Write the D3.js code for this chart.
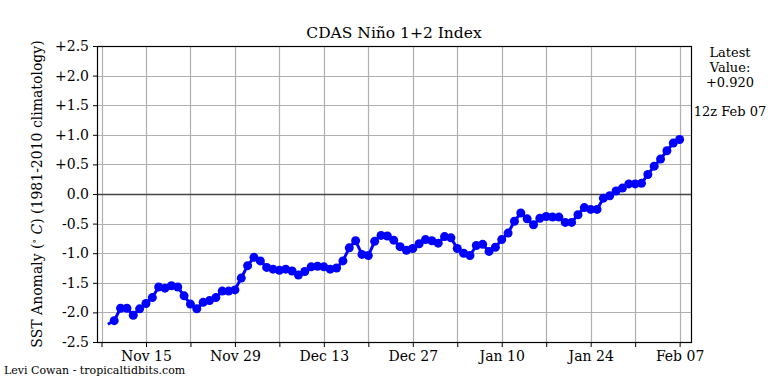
<!DOCTYPE html>
<html>
<head>
<meta charset="utf-8">
<script src="https://cdn.jsdelivr.net/npm/d3@7"></script>
<style>
  body { margin: 0; background: #fff; }
  svg { display: block; }
  text { font-family: "DejaVu Serif", serif; fill: #000; }
</style>
</head>
<body>
<div id="vis"></div>
<script>
// daily anomalies, Nov 09 -> Feb 07
var firstDay = "2021-11-09",
    lastDay = "2022-02-07";

var anomaly = [
  -2.20, -2.14, -1.93, -1.93, -2.05, -1.94, -1.85, -1.75, -1.57, -1.59,
  -1.55, -1.57, -1.72, -1.86, -1.94, -1.83, -1.80, -1.75, -1.64, -1.64,
  -1.62, -1.42, -1.21, -1.07, -1.13, -1.24, -1.27, -1.29, -1.27, -1.30,
  -1.37, -1.31, -1.23, -1.22, -1.23, -1.27, -1.25, -1.13, -0.91, -0.79,
  -1.02, -1.04, -0.80, -0.70, -0.71, -0.78, -0.89, -0.95, -0.92, -0.84,
  -0.77, -0.79, -0.83, -0.72, -0.74, -0.92, -1.00, -1.04, -0.87, -0.85,
  -0.97, -0.90, -0.77, -0.66, -0.46, -0.32, -0.42, -0.52, -0.41, -0.38,
  -0.39, -0.39, -0.48, -0.48, -0.35, -0.23, -0.26, -0.26, -0.07, -0.03,
   0.05,  0.10,  0.17,  0.17,  0.18,  0.33,  0.47,  0.59,  0.73,  0.86,
   0.92
];

var yTicks = [-2.5, -2.0, -1.5, -1.0, -0.5, 0.0, 0.5, 1.0, 1.5, 2.0, 2.5];
var xTickDays = ["2021-11-08", "2021-11-15", "2021-11-22", "2021-11-29", "2021-12-06",
                 "2021-12-13", "2021-12-20", "2021-12-27", "2022-01-03", "2022-01-10",
                 "2022-01-17", "2022-01-24", "2022-01-31", "2022-02-07"];
var xLabels = ["Nov 15", "Nov 29", "Dec 13", "Dec 27", "Jan 10", "Jan 24", "Feb 07"];

var title = "CDAS Niño 1+2 Index";
var latest = ["Latest", "Value:", "+0.920"];
var latestTime = "12z Feb 07";
var credit = "Levi Cowan - tropicaltidbits.com";

var parse = d3.utcParse("%Y-%m-%d");
var W = 768, H = 384;
var plotL = 97, plotR = 691, plotT = 46, plotB = 342;

var days = d3.utcDay.range(parse(firstDay), d3.utcDay.offset(parse(lastDay), 1));
var data = days.map(function(d, i) { return {date: d, v: anomaly[i]}; });
var tickDates = xTickDays.map(parse);

var svg = d3.select("#vis").append("svg")
    .attr("width", W)
    .attr("height", H);

var x = d3.scaleUtc()
    .domain([d3.utcHour.offset(tickDates[0], -17), d3.utcHour.offset(tickDates[tickDates.length - 1], 43)])
    .range([plotL, plotR]);

var y = d3.scaleLinear()
    .domain([-2.5, 2.5])
    .range([plotB, plotT]);

////////// grid //////////
var grid = svg.append("g").attr("class", "grid");

grid.selectAll(".vgrid")
    .data(tickDates)
    .enter().append("line")
    .attr("x1", function(d) { return Math.round(x(d)) + 0.5; })
    .attr("x2", function(d) { return Math.round(x(d)) + 0.5; })
    .attr("y1", plotT)
    .attr("y2", plotB)
    .attr("stroke", "#b0b0b0")
    .attr("stroke-width", 1.2);

grid.selectAll(".hgrid")
    .data(yTicks)
    .enter().append("line")
    .attr("x1", plotL)
    .attr("x2", plotR)
    .attr("y1", function(d) { return Math.round(y(d)) + 0.5; })
    .attr("y2", function(d) { return Math.round(y(d)) + 0.5; })
    .attr("stroke", "#b0b0b0")
    .attr("stroke-width", 1.2);

// zero line
svg.append("line")
    .attr("x1", plotL).attr("x2", plotR)
    .attr("y1", Math.round(y(0)) + 0.5).attr("y2", Math.round(y(0)) + 0.5)
    .attr("stroke", "#444")
    .attr("stroke-width", 1.5);

////////// series //////////
var line = d3.line()
    .x(function(d) { return x(d.date); })
    .y(function(d) { return y(d.v); });

svg.append("path")
    .datum(data)
    .attr("fill", "none")
    .attr("stroke", "#0000ff")
    .attr("stroke-width", 3)
    .attr("stroke-linejoin", "round")
    .attr("d", line);

svg.selectAll(".dot")
    .data(data.slice(1))
    .enter().append("circle")
    .attr("class", "dot")
    .attr("cx", function(d) { return x(d.date); })
    .attr("cy", function(d) { return y(d.v); })
    .attr("r", 4.5)
    .attr("fill", "#0000ff");

////////// axes //////////
var yAxis = d3.axisLeft(y)
    .tickValues(yTicks)
    .tickSize(4)
    .tickPadding(4)
    .tickFormat(function(d) { return d > 0 ? "+" + d.toFixed(1) : d.toFixed(1); });

var gy = svg.append("g")
    .attr("transform", "translate(" + plotL + ",0)")
    .call(yAxis);
gy.select(".domain").remove();
gy.selectAll("text").attr("font-size", 14).attr("font-family", "DejaVu Serif");

var labelled = {};
xLabels.forEach(function(l, i) { labelled[xTickDays[1 + 2 * i]] = l; });

var xAxis = d3.axisBottom(x)
    .tickValues(tickDates)
    .tickSize(5)
    .tickPadding(4)
    .tickFormat(function(d) { return labelled[d3.utcFormat("%Y-%m-%d")(d)] || ""; });

var gx = svg.append("g")
    .attr("transform", "translate(0," + plotB + ")")
    .call(xAxis);
gx.select(".domain").remove();
gx.selectAll("text").attr("font-size", 14).attr("font-family", "DejaVu Serif");

// frame
svg.append("rect")
    .attr("x", plotL + 0.5)
    .attr("y", plotT + 0.5)
    .attr("width", plotR - plotL)
    .attr("height", plotB - plotT)
    .attr("fill", "none")
    .attr("stroke", "#000")
    .attr("stroke-width", 1.2);

////////// text //////////
svg.append("text")
    .attr("x", (plotL + plotR) / 2)
    .attr("y", 38)
    .attr("text-anchor", "middle")
    .attr("font-size", 15.5)
    .text(title);

svg.append("text")
    .attr("transform", "translate(42," + ((plotT + plotB) / 2) + ") rotate(-90)")
    .attr("text-anchor", "middle")
    .attr("font-size", 14)
    .text("SST Anomaly (")
  .append("tspan").attr("font-size", 9).attr("dy", -5).text("∘")
  .select(function() { return this.parentNode; })
  .append("tspan").attr("dy", 5).attr("font-style", "italic").text(" C")
  .select(function() { return this.parentNode; })
  .append("tspan").text(") (1981-2010 climatology)");

svg.selectAll(".latest")
    .data(latest)
    .enter().append("text")
    .attr("x", 730)
    .attr("y", function(d, i) { return 57 + i * 15; })
    .attr("text-anchor", "middle")
    .attr("font-size", 13)
    .text(function(d) { return d; });

svg.append("text")
    .attr("x", 730)
    .attr("y", 116)
    .attr("text-anchor", "middle")
    .attr("font-size", 13)
    .text(latestTime);

svg.append("text")
    .attr("x", 4)
    .attr("y", 374)
    .attr("font-size", 11)
    .text(credit);
</script>
</body>
</html>
